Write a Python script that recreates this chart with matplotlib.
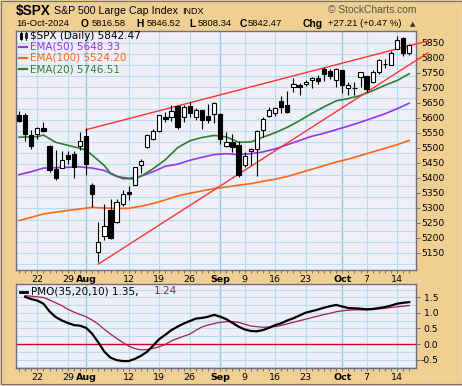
import matplotlib
matplotlib.use('Agg')
import matplotlib.pyplot as plt
from matplotlib.patches import Rectangle
from matplotlib.lines import Line2D
import pandas as pd

# ---------------- data ----------------
dates = [d for d in pd.bdate_range('2024-07-17', '2024-10-16') if d != pd.Timestamp('2024-09-02')]

opens = [5610.07, 5608.56, 5543.37, 5544.92, 5565.30, 5505.84, 5428.70, 5433.67, 5476.55, 5478.73, 5505.59,
         5537.84, 5376.63, 5151.14, 5206.42, 5293.13, 5252.57, 5312.37, 5351.88, 5376.98, 5442.22, 5501.13,
         5530.50, 5557.23, 5602.88, 5603.09, 5637.77, 5602.88, 5639.66, 5602.89, 5624.51, 5607.30, 5612.74,
         5611.85, 5506.68, 5520.08, 5507.33, 5442.07, 5490.51, 5496.42, 5557.48, 5605.21, 5614.05, 5655.51,
         5641.68, 5702.63, 5709.44, 5711.90, 5726.52, 5733.65, 5762.22, 5755.36, 5726.52,
         5757.73, 5698.14, 5698.19, 5735.00, 5737.80, 5719.14, 5751.80, 5778.36, 5775.09, 5829.81, 5866.74, 5816.58]
highs = [5622.49, 5614.05, 5557.50, 5570.36, 5585.34, 5508.04, 5491.59, 5488.32, 5487.74, 5489.46, 5551.51,
         5566.16, 5383.89, 5250.89, 5312.34, 5330.64, 5328.03, 5358.77, 5371.20, 5436.50, 5463.22, 5546.23,
         5561.98, 5608.30, 5620.51, 5643.22, 5643.22, 5641.82, 5651.62, 5631.18, 5627.03, 5646.95, 5651.37,
         5614.05, 5552.99, 5546.30, 5522.47, 5484.20, 5497.91, 5560.41, 5600.71, 5636.27, 5636.05, 5670.81,
         5689.75, 5733.57, 5715.14, 5725.36, 5735.32, 5741.03, 5767.37, 5763.78, 5765.14,
         5757.73, 5719.14, 5718.78, 5753.11, 5739.34, 5757.60, 5796.80, 5795.03, 5822.13, 5871.41, 5870.36, 5846.52]
lows = [5584.81, 5522.81, 5497.04, 5529.04, 5550.90, 5419.98, 5390.95, 5430.70, 5444.44, 5398.84, 5493.75,
        5410.42, 5302.03, 5119.26, 5193.56, 5195.54, 5249.95, 5306.17, 5324.37, 5376.98, 5415.96, 5497.51,
        5525.17, 5550.74, 5585.50, 5590.18, 5560.95, 5585.16, 5602.34, 5593.48, 5560.95, 5583.71, 5581.79,
        5511.31, 5503.66, 5486.85, 5402.62, 5434.49, 5441.72, 5406.96, 5535.50, 5601.65, 5604.53, 5614.05,
        5615.08, 5686.42, 5674.49, 5704.94, 5698.99, 5712.06, 5721.01, 5727.34, 5703.53,
        5681.26, 5674.00, 5677.04, 5702.83, 5686.85, 5714.56, 5745.02, 5764.76, 5775.09, 5829.57, 5804.48, 5808.34]
closes = [5588.27, 5544.59, 5505.00, 5564.41, 5555.74, 5427.13, 5399.22, 5459.10, 5463.54, 5436.44, 5522.30,
          5446.68, 5346.56, 5186.33, 5240.03, 5199.50, 5319.31, 5344.16, 5344.39, 5434.43, 5455.21, 5543.22,
          5554.25, 5608.25, 5597.12, 5620.85, 5570.64, 5634.61, 5616.84, 5625.80, 5592.18, 5591.96, 5648.40,
          5528.93, 5520.07, 5503.41, 5408.42, 5471.05, 5495.52, 5554.13, 5595.76, 5626.02, 5633.09, 5634.58,
          5618.26, 5713.64, 5702.55, 5718.57, 5732.93, 5722.26, 5745.37, 5738.17, 5762.48,
          5708.75, 5709.54, 5699.94, 5751.07, 5695.94, 5751.13, 5792.04, 5780.05, 5815.03, 5859.85, 5815.26, 5842.47]

# EMA readings (trading-day index, value)
ema20_days = [0, 3, 4, 6, 9, 11, 12, 14, 15, 17, 19, 20, 22, 24, 26, 28, 30, 32, 34, 36, 38, 40, 42, 44,
              46, 48, 50, 52, 54, 56, 58, 60, 62, 64]
ema20_vals = [5535, 5537, 5542, 5518, 5503, 5492, 5475, 5440, 5415, 5397, 5396, 5405, 5430, 5460, 5500,
              5523, 5534, 5541, 5536, 5518, 5519, 5535, 5550, 5568, 5590, 5614, 5636, 5656, 5664, 5674,
              5690, 5708, 5724, 5746.5]
ema50_days = [0, 2, 4, 7, 10, 12, 14, 16, 18, 20, 22, 24, 26, 28, 30, 32, 34, 36, 38, 40, 42, 44, 46,
              48, 50, 52, 54, 56, 58, 60, 62, 64]
ema50_vals = [5410, 5420, 5432, 5434, 5436, 5432, 5424, 5404, 5398, 5405, 5420, 5438, 5445, 5458, 5468,
              5477, 5480, 5477, 5480, 5486, 5496, 5510, 5524, 5538, 5548, 5560, 5572, 5585, 5599, 5613,
              5630, 5648.3]
ema100_days = [0, 2, 4, 7, 10, 12, 14, 16, 18, 20, 22, 24, 26, 28, 30, 32, 34, 36, 38, 40, 42, 44, 46,
               48, 50, 52, 54, 56, 58, 60, 62, 64]
ema100_vals = [5257, 5268, 5279, 5288, 5296, 5301, 5299, 5297, 5298, 5305, 5314, 5326, 5339, 5348, 5356,
               5364, 5369, 5375, 5380, 5388, 5395, 5404, 5416, 5428, 5440, 5452, 5462, 5474, 5486, 5498,
               5510, 5524.2]

# PMO readings from day index 1 onward
pmo_start = 1
pmo_vals = [1.52, 1.45, 1.40, 1.30, 1.05, 0.87, 0.76, 0.68, 0.61, 0.59, 0.52, 0.33, 0.05, -0.25, -0.44,
            -0.52, -0.55, -0.55, -0.48, -0.38, -0.25, -0.05, 0.16, 0.30, 0.45, 0.56, 0.66, 0.74, 0.82,
            0.84, 0.88, 0.94, 0.88, 0.80, 0.68, 0.56, 0.47, 0.42, 0.41, 0.45, 0.52, 0.61, 0.67, 0.76,
            0.83, 0.92, 1.01, 1.06, 1.11, 1.17, 1.22, 1.26, 1.21, 1.16, 1.15, 1.14, 1.12, 1.13, 1.16,
            1.19, 1.24, 1.30, 1.33, 1.35]
sig_vals = [1.56, 1.54, 1.52, 1.50, 1.42, 1.33, 1.24, 1.12, 1.03, 0.95, 0.88, 0.77, 0.64, 0.47, 0.32,
            0.18, 0.05, -0.07, -0.15, -0.19, -0.18, -0.14, -0.09, -0.01, 0.10, 0.18, 0.25, 0.32, 0.44,
            0.55, 0.61, 0.66, 0.70, 0.72, 0.72, 0.70, 0.64, 0.58, 0.56, 0.54, 0.55, 0.56, 0.60, 0.65,
            0.70, 0.75, 0.80, 0.85, 0.90, 0.95, 0.99, 1.04, 1.07, 1.09, 1.10, 1.10, 1.10, 1.11, 1.13,
            1.15, 1.18, 1.20, 1.22, 1.24]

# trend lines (day index, price)
upper_line_x = [11, 67.05]
upper_line_y = [5560, 5856]
lower_line_x = [13, 67.05]
lower_line_y = [5112, 5816]

xtick_days = [3, 8, 11, 18, 23, 28, 33, 37, 42, 47, 53, 57, 62]
xtick_labels = ['22', '29', 'Aug', '12', '19', '26', 'Sep', '9', '16', '23', 'Oct', '7', '14']
month_days = [11, 33, 53]
price_ticks = list(range(5150, 5851, 50))
pmo_ticks = [-0.5, 0.0, 0.5, 1.0, 1.5]

# ---------------- style ----------------
W, H = 462, 386
TAN = '#F0D092'
PANEL = '#EFEFF7'
GRID = '#B5DFEC'
GRID_M = '#8FCBE6'
FRAME = '#6E6E82'
C50 = '#9933EE'
C100 = '#FF6611'
C20 = '#2E7D32'
RED = '#FF3333'
MAROON = '#A02050'

def fx(x):
    return x / W

def fy(y):
    return 1 - y / H

fig = plt.figure(figsize=(W / 100, H / 100), dpi=100, facecolor=TAN)
fig.patches.append(Rectangle((0.5 / W, 1 - 383.5 / H), 461 / W, 383 / H, transform=fig.transFigure,
                             fill=False, edgecolor=FRAME, lw=0.8))

ax = fig.add_axes([fx(16), fy(270), 400 / W, 239 / H])
ax2 = fig.add_axes([fx(16), fy(368), 400 / W, 84 / H])

xs = list(range(len(dates)))
for a in (ax, ax2):
    a.set_facecolor(PANEL)
    a.set_xlim(-0.5, 65.1)
    for s in a.spines.values():
        s.set_color(FRAME)
        s.set_linewidth(1.0)
    for d in xtick_days:
        a.axvline(d, color=GRID_M if d in month_days else GRID, lw=1.0 if d in month_days else 0.8, zorder=0)
    a.set_xticks(xtick_days)
    a.set_xticklabels(xtick_labels)
    a.set_xticks(xs, minor=True)
    a.tick_params(axis='x', which='both', direction='out', length=2, width=0.7, color=FRAME, pad=1.5,
                  labelsize=6.8)
    for lbl in a.get_xticklabels():
        lbl.set_family('DejaVu Sans')
        if lbl.get_text() in ('Aug', 'Sep', 'Oct'):
            lbl.set_fontweight('bold')
    a.yaxis.tick_right()

# main panel
ax.set_ylim(5092.3, 5889)
grid_step = (price_ticks[-1] - price_ticks[0]) / 19.0
for k in range(-1, 20):
    ax.axhline(price_ticks[0] + k * grid_step, color=GRID, lw=0.8, zorder=0)
ax.set_yticks(price_ticks)
ax.tick_params(axis='y', direction='out', length=3, width=0.7, color=FRAME, pad=0.8, labelsize=6.7)

ax.plot(ema100_days, ema100_vals, color=C100, lw=1.2, zorder=2)
ax.plot(ema50_days, ema50_vals, color=C50, lw=1.2, zorder=2)
ax.plot(ema20_days, ema20_vals, color=C20, lw=1.2, zorder=2)

ax.plot(upper_line_x, upper_line_y, color=RED, lw=1.0, zorder=3, clip_on=False)
ax.plot(lower_line_x, lower_line_y, color=RED, lw=1.0, zorder=3, clip_on=False)

bw = 0.7
for i, (o, h, l, c) in enumerate(zip(opens, highs, lows, closes)):
    ax.vlines(i, l, h, color='black', lw=0.8, zorder=4)
    lo, hi = min(o, c), max(o, c)
    ax.add_patch(Rectangle((i - bw / 2, lo), bw, max(hi - lo, 0.8), facecolor='white' if c >= o else 'black',
                           edgecolor='black', lw=0.8, zorder=5))

# main legend
fig.patches.append(Rectangle((fx(19.5), fy(38.5)), 2.5 / W, 5 / H, transform=fig.transFigure,
                             facecolor='black', edgecolor='black', lw=0.6))
fig.patches.append(Rectangle((fx(24.5), fy(38)), 2.5 / W, 4.5 / H, transform=fig.transFigure,
                             facecolor='white', edgecolor='black', lw=0.6))
fig.lines.append(Line2D([fx(20.7), fx(20.7)], [fy(31.5), fy(40)], transform=fig.transFigure, color='black', lw=0.6))
fig.lines.append(Line2D([fx(25.7), fx(25.7)], [fy(32), fy(39.5)], transform=fig.transFigure, color='black', lw=0.6))
leg = [('$SPX (Daily) 5842.47', 'black', None, 35.8),
       ('EMA(50) 5648.33', C50, C50, 46.8),
       ('EMA(100) 5524.20', C100, C100, 58.0),
       ('EMA(20) 5746.51', C20, C20, 69.0)]
for txt, col, lcol, yy in leg:
    fig.text(fx(30), fy(yy), txt, color=col, fontsize=7.5, family='DejaVu Sans', va='center', ha='left')
    if lcol:
        fig.lines.append(Line2D([fx(19), fx(27)], [fy(yy), fy(yy)], transform=fig.transFigure,
                                color=lcol, lw=1.6))

# PMO panel
ax2.set_ylim(-0.774, 1.935)
for v in [-0.75, -0.5, -0.25, 0.25, 0.5, 0.75, 1.0, 1.25, 1.5, 1.75]:
    ax2.axhline(v, color=GRID, lw=0.8, zorder=0)
ax2.axhline(0, color='#CC0033', lw=1.0, zorder=1)
ax2.set_yticks(pmo_ticks)
ax2.set_yticklabels(['-0.5', '0.0', '0.5', '1.0', '1.5'])
ax2.tick_params(axis='y', direction='out', length=3, width=0.7, color=FRAME, pad=13, labelsize=6.7)
for lbl in ax2.get_yticklabels():
    lbl.set_horizontalalignment('right')
pmo_x = list(range(pmo_start, pmo_start + len(pmo_vals)))
sig_x = list(range(pmo_start, pmo_start + len(sig_vals)))
ax2.plot(sig_x, sig_vals, color=MAROON, lw=0.9, zorder=2)
ax2.plot(pmo_x, pmo_vals, color='black', lw=1.6, zorder=3)

fig.lines.append(Line2D([fx(20), fx(27)], [fy(291.5), fy(291.5)], transform=fig.transFigure, color='black', lw=2))
fig.text(fx(31), fy(291.5), 'PMO(35,20,10) 1.35,', color='black', fontsize=7.5, family='DejaVu Sans',
         va='center', ha='left')
fig.text(fx(154), fy(291.5), '1.24', color=MAROON, fontsize=7.5, family='DejaVu Sans', va='center', ha='left')

# header
hf = 'Liberation Sans'
fig.text(fx(16), fy(11.5), '$SPX', fontsize=9.8, fontweight='bold', family=hf, va='center', ha='left')
fig.text(fx(54), fy(11.5), 'S&P 500 Large Cap Index', fontsize=7.7, family=hf, va='center', ha='left')
fig.text(fx(182), fy(11.5), 'INDX', fontsize=6.5, family=hf, va='center', ha='left')
fig.text(fx(416), fy(10), '\u00a9 StockCharts.com', fontsize=7.4, family=hf, color='#555555', va='center', ha='right')
row = [('16-Oct-2024', 16, False), ('O', 80.5, True), ('5816.58', 91.5, False), ('H', 136, True),
       ('5846.52', 146.5, False), ('L', 189.5, True), ('5808.34', 198, False), ('C', 239.5, True),
       ('5842.47', 248, False), ('Chg', 302.5, True), ('+27.21 (+0.47 %)', 327.5, False)]
for txt, xx, b in row:
    fig.text(fx(xx), fy(23.8), txt, fontsize=7.4 if b else 6.8, fontweight='bold' if b else 'normal',
             family=hf, va='center', ha='left')
fig.text(fx(410), fy(23.8), '\u25b2', fontsize=5, family='DejaVu Sans', va='center', ha='left', color='#333333')

fig.savefig('out.png', dpi=100, facecolor=TAN)
